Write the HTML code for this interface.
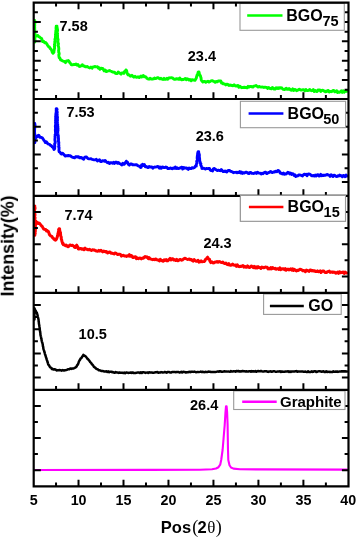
<!DOCTYPE html><html><head><meta charset="utf-8"><style>html,body{margin:0;padding:0;background:#fff;}svg{display:block}text{font-family:"Liberation Sans",sans-serif;font-weight:bold;fill:#000}</style></head><body>
<svg width="357" height="538" viewBox="0 0 357 538">
<rect width="357" height="538" fill="#fff"/>
<polyline points="34.8,20.5 34.7,21.4 34.6,22.4 34.9,23.3 34.5,24.2 34.8,25.2 34.7,26.1 34.5,27.0 34.8,28.0 34.5,28.9 34.8,29.8 34.5,30.8 34.6,31.7 34.8,32.7 35.0,33.6 34.6,34.5 34.6,35.5 34.9,36.4 35.1,37.3 34.8,38.3 34.7,39.2 35.1,40.1 34.5,41.1 34.8,42.0 35.1,41.1 34.8,40.1 34.8,39.2 34.9,38.3 35.1,37.4 35.5,36.4 35.4,35.5 37.0,35.6 37.9,35.4 38.7,36.7 39.6,37.0 40.7,38.0 41.7,38.5 41.9,39.5 42.3,40.5 42.5,41.5 43.5,41.2 44.6,42.7 45.4,42.4 46.3,43.2 47.1,44.4 47.7,45.6 48.2,45.9 48.8,46.9 49.5,47.2 50.2,48.5 50.9,49.0 51.3,49.7 51.7,50.3 52.2,52.1 52.6,52.8 53.0,53.2 54.0,52.0 53.9,51.1 54.2,50.2 54.3,49.3 54.6,48.4 54.6,47.5 54.4,46.6 54.9,45.6 54.4,44.7 54.7,43.8 55.0,42.9 54.7,42.0 55.0,41.1 55.1,40.2 54.9,39.3 55.3,38.3 55.5,37.4 55.4,36.5 55.7,35.5 55.4,34.6 55.7,33.7 55.7,32.7 55.8,31.8 55.8,30.9 56.1,29.9 56.2,29.0 56.0,28.1 56.2,27.1 56.2,26.2 57.0,26.2 56.8,27.1 57.3,28.1 57.3,29.0 57.6,29.9 57.5,30.9 57.3,31.8 57.4,32.7 57.6,33.7 57.3,34.6 57.6,35.5 57.5,36.5 57.6,37.4 57.6,38.3 58.1,39.3 58.0,40.2 57.8,41.1 58.0,42.0 58.1,43.0 58.5,43.9 58.1,44.8 58.3,45.7 58.5,46.6 58.7,47.6 58.8,48.5 58.8,49.4 58.6,50.3 58.7,51.3 58.7,52.2 59.1,53.1 59.2,54.0 58.8,54.9 58.9,55.9 59.0,56.8 59.2,57.7 59.9,58.2 60.6,59.8 61.5,60.2 62.5,60.9 63.4,61.2 64.5,61.4 65.5,62.6 66.4,60.9 67.4,61.0 68.3,60.5 69.0,61.2 69.7,62.5 70.4,63.3 71.3,64.7 72.3,64.6 73.2,64.7 74.1,64.5 75.1,64.5 76.0,64.0 76.9,65.1 77.9,64.5 78.8,66.1 79.7,66.5 80.5,66.0 81.4,65.8 82.3,64.7 83.2,66.0 84.2,65.9 85.1,66.8 86.3,66.8 87.4,66.5 88.6,67.5 89.8,68.0 90.9,67.1 92.1,68.2 93.0,67.0 93.8,66.9 94.7,66.5 95.6,66.8 96.5,66.9 97.5,66.8 98.4,68.2 99.2,67.7 100.0,69.2 101.0,68.2 102.1,68.5 102.8,68.5 103.5,69.8 104.2,70.9 105.2,70.0 106.3,71.6 107.4,71.1 108.4,70.9 109.5,70.5 110.5,71.0 111.5,71.4 112.6,72.0 113.5,72.2 114.5,72.2 115.4,73.4 116.3,73.6 117.3,73.5 118.2,72.0 119.1,72.6 120.1,73.4 121.0,74.1 121.9,73.0 122.9,72.8 123.8,73.4 124.3,72.2 124.8,71.2 125.4,71.4 125.9,69.9 126.3,70.2 126.7,70.9 127.2,73.7 127.6,73.9 128.0,74.8 128.9,74.6 129.9,75.8 130.8,76.2 131.9,75.3 132.9,76.3 133.9,77.2 135.0,76.2 136.1,77.3 137.1,77.3 138.1,76.8 139.2,77.6 140.0,76.9 140.9,76.1 141.7,76.9 142.6,76.0 143.4,75.5 144.3,76.8 145.2,76.6 146.0,77.0 146.9,78.3 147.9,78.9 149.0,79.2 150.0,78.2 150.9,79.0 151.8,78.9 152.7,79.0 153.6,78.9 154.5,78.0 155.5,78.6 156.4,78.4 157.3,77.8 158.2,77.8 159.1,78.4 160.0,78.9 161.0,78.3 162.0,79.1 163.0,79.5 164.0,78.4 165.0,79.3 166.0,79.3 167.0,78.2 167.9,79.2 168.8,78.0 169.8,77.8 170.7,77.9 171.6,77.8 172.5,77.9 173.4,78.8 174.3,79.4 175.2,79.3 176.2,78.7 177.1,79.1 178.0,78.8 178.9,79.4 179.8,78.0 180.7,79.2 181.6,79.8 182.5,79.5 183.5,79.5 184.4,79.0 185.3,78.4 186.2,79.7 187.1,78.8 188.0,79.2 189.0,80.0 190.0,79.5 191.1,80.6 192.1,79.6 193.1,79.8 194.2,80.2 194.9,80.4 195.6,79.2 196.3,78.1 196.6,76.6 196.9,75.6 197.2,74.8 197.5,75.4 197.8,74.4 198.1,72.2 198.4,72.0 199.0,72.0 199.4,73.7 199.8,75.0 200.1,75.3 200.5,76.0 200.7,77.0 201.1,78.0 201.1,78.9 201.3,79.9 201.9,80.9 202.9,82.0 203.9,81.5 204.8,81.4 205.8,82.3 206.8,81.6 207.9,81.3 208.9,82.0 209.9,81.7 211.0,80.9 212.1,80.7 213.1,81.1 214.1,81.5 215.2,82.3 216.2,81.5 217.2,81.9 218.1,81.0 219.1,81.0 220.1,80.9 220.8,80.9 221.5,83.1 222.2,82.7 222.9,83.7 223.9,83.8 224.9,84.1 225.8,84.9 226.8,84.1 227.8,84.4 228.9,85.5 229.9,85.0 230.9,85.3 232.0,85.5 233.1,85.7 234.1,84.8 235.1,85.8 236.2,86.1 237.1,85.7 238.0,85.5 238.9,87.3 239.8,86.2 240.7,87.0 241.6,87.7 242.5,87.5 243.4,87.6 244.3,87.2 245.3,87.5 246.2,87.4 247.1,87.8 248.1,86.4 249.0,87.2 249.9,86.5 250.9,86.4 251.8,86.8 252.9,87.0 253.9,86.2 254.9,85.9 256.0,85.5 257.1,86.3 258.1,87.0 259.1,86.4 260.2,86.8 261.1,87.1 262.1,87.0 263.0,87.1 263.9,87.5 264.9,87.1 265.8,87.4 266.7,87.4 267.7,88.4 268.6,87.6 269.5,88.1 270.5,88.6 271.4,88.8 272.3,87.5 273.3,88.2 274.2,89.1 275.1,89.0 276.1,87.7 277.0,88.5 277.9,87.8 278.9,88.5 279.8,87.7 280.7,88.1 281.7,87.8 282.6,89.0 283.5,89.3 284.5,89.6 285.4,88.8 286.3,88.2 287.2,89.4 288.2,89.4 289.1,88.5 290.0,89.3 290.9,90.1 291.9,90.3 292.8,88.9 293.7,90.4 294.7,89.4 295.6,89.6 296.5,90.7 297.5,90.4 298.4,89.8 299.3,89.2 300.3,89.8 301.2,90.1 302.1,89.8 303.1,89.6 304.0,89.9 304.9,90.8 305.9,89.5 306.8,90.5 307.7,90.6 308.7,90.4 309.6,89.5 310.5,90.2 311.5,90.7 312.4,90.5 313.3,89.6 314.3,91.5 315.2,90.5 316.1,91.1 317.1,91.6 318.0,89.9 318.9,90.3 319.9,89.9 320.8,91.4 321.7,90.4 322.7,90.2 323.6,91.0 324.5,90.9 325.5,91.9 326.4,91.7 327.3,90.7 328.3,90.5 329.2,92.0 330.1,91.4 331.1,91.7 332.0,91.3 332.9,90.5 333.9,90.5 334.8,91.8 335.7,91.4 336.7,90.7 337.6,92.5 338.5,92.0 339.5,92.3 340.4,91.8 341.3,90.9 342.3,92.4 343.2,90.7 344.2,92.2 345.1,91.4 346.1,91.0 347.0,91.3" fill="none" stroke="#00ff00" stroke-width="2.9" stroke-linejoin="round" stroke-linecap="round"/>
<polyline points="34.8,123.4 34.8,124.3 35.1,125.2 34.7,126.2 34.6,127.1 34.8,128.0 34.6,128.9 34.6,129.8 34.6,130.8 34.5,131.7 34.6,132.6 34.7,133.5 34.7,134.4 35.0,135.3 34.7,136.3 34.8,137.2 34.6,138.1 34.7,139.0 34.5,139.9 34.7,140.9 34.5,141.8 34.8,142.7 35.0,141.8 35.0,140.9 34.9,140.0 35.2,139.1 35.6,138.2 35.4,137.3 36.2,136.0 37.0,136.9 37.9,135.6 38.7,135.2 39.3,135.9 39.8,137.3 40.4,137.3 41.5,137.5 42.5,138.1 43.2,139.1 43.9,140.4 44.6,141.0 45.4,142.5 46.3,141.8 47.1,142.7 47.9,143.9 48.8,144.2 49.6,144.4 50.2,145.3 50.9,145.5 51.6,146.0 52.2,146.9 52.8,146.9 53.4,147.9 54.0,149.5 54.7,148.6 54.5,147.7 54.9,146.7 54.7,145.8 54.7,144.9 54.6,143.9 55.1,143.0 55.2,142.1 55.1,141.1 54.9,140.2 54.9,139.3 55.0,138.3 55.1,137.4 55.0,136.5 55.2,135.5 55.1,134.6 55.6,133.7 55.6,132.7 55.4,131.8 55.5,130.9 55.3,129.9 55.8,129.0 55.4,128.1 55.5,127.2 55.3,126.2 55.6,125.3 55.6,124.4 55.7,123.4 55.5,122.5 55.8,121.6 55.5,120.7 55.7,119.7 55.6,118.8 55.8,117.9 55.6,117.0 55.7,116.0 55.9,115.1 55.8,114.2 56.1,113.2 56.1,112.3 56.3,111.4 56.2,110.5 56.3,109.5 56.2,108.6 56.8,108.6 57.1,109.5 56.8,110.4 56.8,111.3 57.3,112.2 56.8,113.2 57.2,114.1 57.2,115.0 56.9,115.9 57.4,116.8 57.5,117.7 57.3,118.6 57.4,119.5 57.5,120.4 57.2,121.3 57.4,122.3 57.5,123.2 57.7,124.1 57.7,125.0 57.6,125.9 57.9,126.8 57.8,127.7 58.0,128.6 57.9,129.5 58.0,130.4 57.8,131.3 57.7,132.3 57.8,133.2 58.0,134.1 57.9,135.0 58.4,135.9 58.3,136.8 58.4,137.7 58.5,138.6 58.5,139.5 58.5,140.4 58.3,141.3 58.8,142.2 58.8,143.2 58.7,144.1 58.8,145.0 58.9,145.9 58.6,146.8 59.1,147.7 59.0,148.6 59.0,149.7 58.9,150.8 59.3,151.9 60.0,152.1 60.6,153.3 61.5,154.0 62.5,153.2 63.4,154.0 64.3,155.0 65.3,156.1 66.2,155.7 67.2,155.7 68.3,155.5 69.4,155.7 70.4,155.7 71.2,156.5 72.1,157.1 72.9,157.3 73.8,157.7 74.6,157.9 75.5,156.8 76.5,156.7 77.4,157.1 78.6,156.7 79.7,157.9 80.9,157.5 81.8,157.7 82.8,158.8 83.7,159.3 84.4,157.6 85.1,157.0 85.8,157.1 86.6,157.0 87.5,158.2 88.3,158.6 89.2,158.9 90.0,158.9 91.0,158.7 92.1,159.4 93.2,159.6 94.2,159.9 95.2,159.9 96.3,159.3 97.4,161.0 98.4,160.3 99.5,159.8 100.5,161.5 101.5,161.5 102.6,160.7 104.2,161.2 105.2,160.5 106.3,161.7 107.4,162.7 108.4,162.3 109.5,163.5 110.5,162.7 111.5,162.6 112.6,163.3 113.5,162.4 114.5,163.5 115.4,162.3 116.5,162.1 117.5,163.2 118.5,162.6 119.6,163.7 120.6,163.9 121.7,164.9 122.8,163.4 123.8,164.3 124.4,164.2 125.0,162.8 125.7,162.7 126.3,161.2 126.9,162.4 127.5,162.2 128.2,164.3 128.8,164.3 129.4,165.1 130.4,164.0 131.5,163.9 132.6,164.8 133.6,164.7 134.7,164.9 135.7,164.8 136.8,164.7 137.8,165.7 138.7,166.0 139.7,166.5 140.6,167.5 141.1,167.4 141.6,164.9 142.2,165.6 142.7,164.3 143.6,165.5 144.4,164.6 145.3,166.8 146.2,166.5 147.1,167.1 148.1,167.6 149.1,166.5 150.0,167.1 150.9,166.9 151.9,166.9 152.8,168.2 153.8,167.4 154.7,167.0 155.6,167.1 156.6,166.9 157.5,166.4 158.4,166.6 159.4,168.1 160.3,167.0 161.2,168.3 162.2,167.0 163.1,167.1 164.1,167.6 165.0,167.6 165.9,167.0 166.9,167.4 167.8,168.6 168.8,168.5 169.7,168.3 170.6,168.0 171.6,168.6 172.5,168.7 173.4,167.9 174.4,168.3 175.3,167.0 176.2,168.4 177.2,167.8 178.1,168.5 179.1,168.3 180.0,168.0 180.9,167.6 181.8,167.2 182.7,169.0 183.6,167.4 184.5,168.2 185.5,168.0 186.4,167.9 187.3,168.8 188.2,169.4 189.1,168.0 190.0,168.5 191.1,168.6 192.1,167.7 193.1,168.0 194.2,167.7 194.9,166.9 195.6,165.9 196.3,166.0 196.2,165.1 196.4,164.1 196.9,163.2 196.8,162.2 196.7,161.3 197.3,160.3 197.4,159.4 197.2,158.4 197.2,157.5 197.3,156.5 197.4,155.6 197.6,154.6 197.6,153.7 197.8,152.7 198.1,151.8 198.7,151.8 198.7,152.7 199.0,153.6 199.3,154.5 199.4,155.4 199.3,156.3 199.4,157.3 199.6,158.2 199.6,159.1 199.7,160.0 199.7,160.9 200.1,161.8 200.2,162.8 200.9,163.7 200.6,164.7 201.1,165.6 201.5,166.6 201.9,167.5 201.9,168.5 203.1,168.1 204.2,168.4 205.4,169.1 206.4,168.4 207.5,168.6 208.6,168.5 209.6,168.5 210.3,170.1 211.0,170.5 211.7,170.5 212.6,170.9 213.4,168.8 214.3,168.5 215.2,169.1 216.2,169.9 217.3,170.6 218.3,170.1 219.4,170.5 220.3,170.7 221.3,169.6 222.2,170.5 223.1,171.6 224.1,171.5 225.0,170.9 225.9,171.7 226.9,172.0 227.8,170.6 228.7,170.4 229.7,170.5 230.6,171.3 231.5,171.5 232.5,172.0 233.4,172.7 234.3,172.4 235.3,172.4 236.2,172.3 237.1,172.9 238.0,172.3 238.9,172.5 239.8,171.5 240.7,173.1 241.6,172.0 242.5,173.4 243.4,172.6 244.3,173.0 245.3,172.4 246.2,172.1 247.1,172.5 248.1,173.3 249.0,173.5 249.9,172.4 250.9,172.5 251.8,173.4 252.7,173.4 253.7,173.5 254.6,173.1 255.5,172.7 256.5,173.4 257.4,172.2 258.3,172.8 259.3,173.1 260.2,173.1 261.1,174.0 262.1,173.3 263.0,173.7 263.9,172.8 264.9,172.3 265.8,172.3 266.7,173.6 267.7,173.1 268.6,172.6 269.6,172.1 270.6,171.5 271.6,172.3 272.5,172.6 273.5,172.0 274.5,172.1 275.4,171.2 276.2,171.6 277.0,171.7 277.9,170.4 278.5,170.6 279.1,171.0 279.8,172.3 280.4,173.4 281.4,173.3 282.4,173.9 283.4,173.0 284.4,174.3 285.4,173.8 286.2,174.0 287.1,173.2 287.9,172.3 288.8,172.6 289.7,173.9 290.6,173.0 291.4,174.4 292.3,173.6 293.2,173.9 294.1,175.4 294.9,174.8 295.8,176.5 296.7,176.0 297.7,175.8 298.6,175.0 299.6,174.9 300.5,175.1 301.5,175.5 302.4,175.9 303.4,174.8 304.3,174.1 305.2,174.6 306.1,174.3 307.0,175.8 307.9,174.2 308.8,174.0 309.8,174.1 310.7,174.8 311.6,175.8 312.5,175.8 313.4,175.5 314.3,176.1 315.2,175.1 316.1,176.0 317.1,174.8 318.0,174.6 318.9,176.1 319.9,175.8 320.8,174.4 321.7,175.7 322.7,175.2 323.6,175.5 324.5,175.2 325.5,175.2 326.4,174.8 327.3,174.5 328.3,175.1 329.2,175.2 330.1,176.4 331.1,174.7 332.0,175.5 333.0,176.5 333.9,175.1 334.9,175.4 335.8,176.4 336.8,176.5 337.7,175.8 338.7,176.0 339.6,175.1 340.5,175.9 341.5,175.7 342.4,176.8 343.3,175.4 344.2,175.7 345.2,176.8 346.1,175.1 347.0,176.0" fill="none" stroke="#0000ff" stroke-width="2.9" stroke-linejoin="round" stroke-linecap="round"/>
<polyline points="34.8,205.9 34.7,206.8 35.0,207.7 35.0,208.7 34.5,209.6 34.5,210.5 34.5,211.4 35.1,212.3 34.7,213.2 34.9,214.2 35.0,215.1 34.7,216.0 34.7,216.9 35.1,217.8 34.9,218.8 34.7,219.7 34.9,220.6 34.7,221.5 34.7,222.4 34.5,223.4 35.0,224.3 35.0,225.2 34.9,226.1 35.1,227.0 34.5,228.0 34.6,228.9 34.8,229.8 35.1,230.7 35.1,231.6 34.7,232.5 34.7,233.5 34.8,234.4 34.8,235.3 34.9,234.4 35.2,233.4 34.8,232.5 35.3,231.5 35.3,230.6 35.4,229.6 35.5,228.7 35.5,227.7 35.4,226.8 35.4,225.8 35.5,224.9 35.8,223.9 35.5,223.0 35.6,222.0 35.9,221.1 36.6,222.4 37.2,222.2 37.9,223.5 38.9,223.1 39.8,223.6 40.8,225.0 41.5,225.9 42.1,226.3 42.8,227.5 43.8,229.1 44.7,229.5 45.7,229.4 46.4,231.0 47.0,230.3 47.7,231.4 48.2,231.3 48.7,232.2 49.1,233.7 49.6,234.9 50.1,235.3 50.9,236.0 51.8,236.4 52.6,237.7 53.3,238.2 54.0,239.2 54.8,239.9 55.5,240.2 56.0,239.7 56.5,238.9 57.0,237.6 57.5,236.3 57.5,235.4 58.1,234.4 57.9,233.5 58.3,232.6 58.4,231.6 58.8,230.7 58.6,229.7 59.0,228.8 59.6,228.8 59.6,229.7 59.8,230.6 59.9,231.6 60.5,232.5 60.5,233.4 60.6,234.3 60.6,235.3 60.8,236.3 61.3,237.2 61.2,238.2 61.3,239.2 61.6,239.6 62.0,241.7 62.3,242.3 62.7,243.9 63.0,243.1 63.4,244.8 64.3,244.8 65.3,245.6 66.2,245.1 67.1,246.1 68.1,246.7 69.0,246.2 69.9,245.0 70.9,245.3 71.8,245.5 72.7,245.3 73.7,246.1 74.6,247.3 75.3,247.5 76.0,246.0 76.7,245.1 77.2,246.9 77.8,246.8 78.3,248.8 78.8,249.0 79.8,248.8 80.9,248.4 82.0,249.3 83.0,248.7 84.0,249.7 85.1,248.2 86.2,249.3 87.2,249.3 88.2,249.8 89.3,249.3 90.4,249.9 91.4,250.4 92.5,249.8 93.5,250.0 94.5,250.1 95.6,250.7 96.6,251.0 97.7,251.2 98.8,250.4 99.8,251.1 100.8,250.3 101.7,251.0 102.7,251.9 103.7,251.0 104.6,251.4 105.6,251.9 106.5,251.5 107.5,253.0 108.4,252.7 109.3,252.0 110.3,252.3 111.2,253.3 112.1,253.2 113.1,253.6 114.0,253.9 114.9,252.9 115.9,253.2 116.8,254.0 117.7,254.6 118.7,254.3 119.6,254.3 120.5,254.5 121.5,256.1 122.4,255.4 123.5,255.3 124.5,256.1 125.5,255.9 126.6,256.5 127.5,255.7 128.5,256.0 129.4,254.7 130.2,256.3 131.1,255.5 131.9,255.8 132.8,257.4 133.6,257.5 134.5,257.0 135.5,256.7 136.4,258.7 137.3,257.8 138.3,258.7 139.2,258.2 140.2,258.0 141.3,259.0 142.3,258.1 143.4,258.2 144.3,257.2 145.2,256.5 146.0,257.3 146.9,256.8 147.7,257.6 148.4,258.7 149.2,257.6 150.0,258.9 151.7,259.3 152.7,259.7 153.6,259.3 154.6,259.7 155.5,259.0 156.5,259.4 157.4,260.0 158.4,260.1 159.4,261.0 160.3,259.4 161.3,260.3 162.3,260.9 163.3,261.3 164.2,259.8 165.2,260.5 166.2,259.5 167.1,260.9 168.1,260.7 169.0,259.5 170.0,258.4 170.9,259.9 171.9,258.8 172.9,258.8 173.8,260.1 174.8,259.8 175.7,260.4 176.7,259.3 177.6,260.8 178.6,260.5 179.6,259.6 180.6,259.6 181.7,260.2 182.7,259.8 183.7,258.8 184.7,258.3 185.6,258.5 186.6,259.0 187.5,259.4 188.5,259.3 189.4,258.9 190.4,259.8 191.4,259.5 192.3,260.6 193.3,261.1 194.2,259.6 195.2,260.8 196.1,261.3 197.1,261.0 198.1,260.3 199.0,262.2 200.0,261.8 201.1,260.9 202.1,261.8 203.1,261.6 204.2,261.4 204.8,261.0 205.3,259.6 205.9,259.1 206.5,258.8 207.0,257.8 207.6,257.2 208.1,258.3 208.5,258.6 209.0,259.4 209.5,259.3 210.0,261.3 210.4,261.8 210.9,262.6 211.9,261.9 213.0,262.9 214.1,262.8 215.1,262.1 216.1,262.1 217.0,261.6 218.0,262.3 218.9,261.6 219.9,261.7 220.8,262.4 221.8,262.6 222.8,262.1 223.8,263.2 224.9,263.6 225.9,263.0 226.9,264.3 227.9,264.7 228.8,263.7 229.8,265.1 230.7,265.3 231.7,264.9 232.6,264.1 233.6,265.1 234.5,265.2 235.5,265.1 236.4,266.3 237.3,264.8 238.3,266.3 239.2,266.7 240.1,266.3 241.1,266.5 242.0,266.0 242.9,265.5 243.9,267.1 244.8,266.3 245.7,267.3 246.7,267.3 247.6,265.9 248.5,267.2 249.5,267.6 250.4,266.8 251.4,266.0 252.3,266.7 253.3,267.6 254.2,266.4 255.2,268.0 256.2,266.8 257.1,268.0 258.1,266.7 259.0,267.5 260.0,267.6 260.9,268.5 261.8,267.1 262.7,267.3 263.6,267.8 264.5,267.5 265.4,267.0 266.3,267.3 267.2,267.3 268.1,268.9 269.0,268.5 269.9,268.9 270.8,267.5 271.7,268.8 272.6,267.5 273.5,268.4 274.4,268.7 275.3,268.2 276.2,269.2 277.1,268.7 278.0,268.8 278.9,269.4 279.8,267.9 280.7,269.7 281.6,268.8 282.5,269.1 283.4,268.7 284.4,269.6 285.3,268.6 286.2,270.2 287.1,269.4 288.0,269.1 288.9,269.9 289.9,269.4 290.8,268.9 291.7,270.1 292.6,268.8 293.5,270.4 294.4,269.4 295.4,270.2 296.3,271.0 297.2,270.3 298.1,270.5 299.0,269.9 299.9,269.3 300.9,269.5 301.8,269.8 302.7,270.8 303.6,270.5 304.5,270.7 305.4,271.6 306.4,270.1 307.3,270.4 308.2,271.0 309.1,271.4 310.0,270.1 311.0,270.1 311.9,270.9 312.8,270.4 313.7,271.0 314.6,270.8 315.5,271.5 316.5,271.6 317.4,270.9 318.3,271.7 319.2,271.5 320.1,270.9 321.0,272.5 322.0,271.2 322.9,271.0 323.8,271.0 324.7,272.1 325.6,272.6 326.5,272.5 327.5,271.7 328.4,271.5 329.3,271.1 330.2,272.4 331.1,272.2 332.0,271.9 333.0,272.5 333.9,272.1 334.8,272.3 335.7,273.2 336.7,272.9 337.6,272.0 338.6,273.4 339.5,271.7 340.4,272.7 341.4,272.5 342.3,272.3 343.2,272.0 344.2,273.5 345.1,272.0 346.1,273.1 347.0,273.1" fill="none" stroke="#ff0000" stroke-width="3.0" stroke-linejoin="round" stroke-linecap="round"/>
<polyline points="34.4,319.5 34.5,318.6 34.3,317.6 34.3,316.7 34.4,315.8 34.4,314.8 34.4,313.9 34.5,313.0 34.3,312.0 34.3,311.1 34.3,310.2 34.3,309.2 34.4,308.3 35.0,309.8 35.6,310.5 36.0,311.6 36.4,312.4 36.8,312.7 37.2,314.0 37.5,315.0 37.7,316.0 37.9,317.0 38.2,318.0 38.4,319.0 38.6,320.0 38.6,320.9 38.7,321.8 38.9,322.7 38.9,323.6 39.1,324.6 39.3,325.5 39.4,326.4 39.6,327.3 39.6,328.2 39.8,329.1 39.8,330.0 40.0,330.9 40.1,331.8 40.3,332.7 40.4,333.6 40.4,334.5 40.6,335.4 40.8,336.3 41.1,337.2 41.1,338.1 41.5,338.9 41.5,339.8 41.7,340.7 41.9,341.6 42.2,342.5 42.5,343.4 42.7,344.3 42.8,345.2 42.9,346.1 43.2,347.0 43.3,347.9 43.4,348.8 43.7,349.7 44.1,350.7 44.3,351.7 44.7,352.8 44.9,353.8 45.2,354.8 45.6,355.8 45.8,356.8 46.3,357.9 46.5,358.9 46.8,359.9 47.2,360.8 47.4,361.7 47.8,362.7 48.0,363.6 48.3,364.5 48.8,365.1 49.3,365.8 49.9,366.9 50.4,367.6 51.1,367.7 51.9,369.0 52.6,368.8 53.4,369.6 54.4,369.3 55.5,369.5 56.5,370.4 57.5,370.2 58.5,370.2 59.5,370.1 60.6,370.2 61.6,370.7 62.7,370.1 63.9,370.5 65.0,370.2 66.1,370.0 67.2,369.7 68.3,369.2 69.3,369.3 70.3,368.5 71.4,368.9 72.4,368.5 73.4,368.5 74.2,368.2 75.1,367.7 75.9,367.2 76.7,366.3 77.1,365.1 77.5,365.0 78.0,364.2 78.4,363.3 78.8,361.8 79.2,361.0 79.7,360.1 80.1,359.6 80.6,358.4 81.2,358.3 81.8,357.5 82.3,356.5 82.9,355.9 83.4,354.8 84.1,355.5 84.8,355.8 85.4,356.3 86.1,356.9 86.8,357.9 87.4,358.8 87.9,359.0 88.5,359.8 89.1,360.6 89.6,361.0 90.2,362.1 90.8,362.6 91.4,363.3 92.0,364.4 92.6,364.8 93.2,365.5 93.8,366.8 94.4,367.1 95.2,367.7 96.1,368.7 96.9,369.1 97.8,369.2 98.6,370.2 99.6,370.3 100.6,370.6 101.6,371.1 102.6,370.9 103.6,371.3 104.5,371.6 105.5,371.5 106.4,371.3 107.3,372.0 108.3,371.4 109.2,372.2 110.1,371.7 111.1,371.7 112.0,372.2 112.9,372.0 113.9,372.6 114.8,372.8 115.7,372.0 116.7,372.5 117.6,372.6 118.5,372.9 119.5,372.4 120.4,372.8 121.4,372.8 122.3,372.7 123.3,373.1 124.2,372.6 125.2,373.2 126.2,372.6 127.1,372.5 128.1,373.0 129.0,372.8 130.0,372.8 130.9,372.4 131.8,372.9 132.7,372.4 133.6,373.0 134.5,372.9 135.5,373.0 136.4,372.8 137.3,372.6 138.2,372.6 139.1,372.6 140.0,373.0 140.9,372.3 141.8,373.0 142.7,372.2 143.6,372.3 144.5,372.4 145.5,372.9 146.4,372.6 147.3,372.4 148.2,372.9 149.1,372.3 150.0,372.5 150.9,372.5 151.8,372.5 152.8,372.7 153.7,372.7 154.6,372.6 155.5,372.3 156.4,372.3 157.4,372.1 158.3,372.7 159.2,372.5 160.1,372.6 161.1,372.1 162.0,372.3 162.9,372.6 163.8,372.4 164.7,372.0 165.7,372.3 166.6,372.7 167.5,372.1 168.4,372.0 169.3,372.1 170.3,372.5 171.2,372.6 172.1,371.9 173.0,371.9 173.9,372.0 174.9,372.1 175.8,372.2 176.7,371.9 177.6,372.0 178.6,371.9 179.5,372.6 180.4,372.4 181.3,371.8 182.2,372.5 183.2,371.8 184.1,372.0 185.0,372.1 185.9,372.5 186.9,372.3 187.8,372.3 188.7,372.0 189.6,371.8 190.6,372.2 191.5,371.7 192.4,371.7 193.3,371.9 194.3,371.6 195.2,371.9 196.1,372.2 197.0,372.1 198.0,371.9 198.9,372.1 199.8,371.9 200.7,371.6 201.7,372.0 202.6,371.8 203.5,372.1 204.4,372.2 205.4,371.8 206.3,371.9 207.2,372.1 208.1,371.8 209.1,371.6 210.0,371.8 210.9,372.0 211.8,372.1 212.7,372.0 213.6,371.9 214.5,372.0 215.5,371.9 216.4,371.8 217.3,371.6 218.2,371.5 219.1,371.7 220.0,371.2 220.9,371.5 221.8,371.8 222.7,371.7 223.6,371.6 224.5,371.3 225.5,371.4 226.4,371.4 227.3,371.6 228.2,371.4 229.1,371.6 230.0,371.8 230.9,371.1 231.8,371.5 232.7,371.6 233.6,371.2 234.5,371.3 235.5,371.7 236.4,370.9 237.3,371.3 238.2,370.9 239.1,371.5 240.0,371.2 240.9,371.6 241.8,371.2 242.7,370.9 243.6,371.3 244.5,371.3 245.5,371.5 246.4,371.3 247.3,371.4 248.2,371.6 249.1,371.3 250.0,371.2 250.9,371.7 251.8,371.1 252.7,371.5 253.6,371.2 254.5,371.6 255.5,371.0 256.4,371.8 257.3,371.2 258.2,371.0 259.1,371.2 260.0,371.3 260.9,371.0 261.8,371.3 262.7,371.4 263.6,371.6 264.5,371.3 265.5,371.2 266.4,371.2 267.3,371.7 268.2,371.9 269.1,371.5 270.0,371.5 270.9,371.3 271.8,371.8 272.7,371.4 273.6,371.3 274.5,371.2 275.5,371.8 276.4,371.8 277.3,371.6 278.2,371.5 279.1,371.6 280.0,371.3 280.9,372.0 281.8,371.4 282.7,371.7 283.6,371.8 284.5,371.8 285.5,371.5 286.4,371.4 287.3,371.6 288.2,371.2 289.1,371.9 290.0,371.4 290.9,371.9 291.8,371.4 292.7,371.5 293.6,371.4 294.5,371.5 295.5,371.3 296.4,371.1 297.3,371.8 298.2,371.4 299.1,371.4 300.0,371.6 300.9,371.4 301.8,371.6 302.7,371.5 303.6,371.7 304.5,371.7 305.4,371.5 306.3,372.0 307.2,371.9 308.1,371.2 309.0,371.9 309.9,372.0 310.8,371.9 311.8,371.3 312.7,371.9 313.6,371.7 314.5,371.2 315.4,371.2 316.3,372.0 317.2,371.7 318.1,371.4 319.0,371.2 319.9,371.3 320.8,371.4 321.7,371.8 322.6,371.5 323.5,371.3 324.4,372.0 325.3,371.9 326.2,371.3 327.1,372.0 328.0,371.7 328.9,371.9 329.8,371.8 330.7,372.0 331.6,371.9 332.5,371.9 333.4,371.3 334.3,371.8 335.2,371.6 336.2,371.8 337.1,371.5 338.0,371.9 338.9,371.6 339.8,371.4 340.7,371.4 341.6,371.3 342.5,371.6 343.4,371.2 344.3,371.6 345.2,371.3 346.1,371.6 347.0,371.6" fill="none" stroke="#000000" stroke-width="2.5" stroke-linejoin="round" stroke-linecap="round"/>
<polyline points="34.8,470.0 150.0,469.9 200.0,469.7 212.0,469.2 216.0,468.5 218.5,467.2 220.2,464.7 221.2,460.0 222.6,450.0 223.6,438.0 224.7,425.0 225.5,412.0 226.0,406.4 226.6,406.4 227.1,412.0 227.6,425.0 227.8,438.0 228.0,450.0 228.3,460.0 229.5,465.2 231.0,467.5 233.5,468.6 240.0,469.3 347.0,469.6" fill="none" stroke="#ff00ff" stroke-width="2.1" stroke-linejoin="round" stroke-linecap="round"/>
<path d="M56.04,99.00v-4.0 M78.52,99.00v-6.7 M101.01,99.00v-4.0 M123.50,99.00v-6.7 M145.99,99.00v-4.0 M168.47,99.00v-6.7 M190.96,99.00v-4.0 M213.45,99.00v-6.7 M235.94,99.00v-4.0 M258.42,99.00v-6.7 M280.91,99.00v-4.0 M303.40,99.00v-6.7 M325.89,99.00v-4.0 M56.04,195.90v-4.0 M78.52,195.90v-6.7 M101.01,195.90v-4.0 M123.50,195.90v-6.7 M145.99,195.90v-4.0 M168.47,195.90v-6.7 M190.96,195.90v-4.0 M213.45,195.90v-6.7 M235.94,195.90v-4.0 M258.42,195.90v-6.7 M280.91,195.90v-4.0 M303.40,195.90v-6.7 M325.89,195.90v-4.0 M56.04,292.90v-4.0 M78.52,292.90v-6.7 M101.01,292.90v-4.0 M123.50,292.90v-6.7 M145.99,292.90v-4.0 M168.47,292.90v-6.7 M190.96,292.90v-4.0 M213.45,292.90v-6.7 M235.94,292.90v-4.0 M258.42,292.90v-6.7 M280.91,292.90v-4.0 M303.40,292.90v-6.7 M325.89,292.90v-4.0 M56.04,389.90v-4.0 M78.52,389.90v-6.7 M101.01,389.90v-4.0 M123.50,389.90v-6.7 M145.99,389.90v-4.0 M168.47,389.90v-6.7 M190.96,389.90v-4.0 M213.45,389.90v-6.7 M235.94,389.90v-4.0 M258.42,389.90v-6.7 M280.91,389.90v-4.0 M303.40,389.90v-6.7 M325.89,389.90v-4.0 M56.04,486.40v-4.0 M78.52,486.40v-6.7 M101.01,486.40v-4.0 M123.50,486.40v-6.7 M145.99,486.40v-4.0 M168.47,486.40v-6.7 M190.96,486.40v-4.0 M213.45,486.40v-6.7 M235.94,486.40v-4.0 M258.42,486.40v-6.7 M280.91,486.40v-4.0 M303.40,486.40v-6.7 M325.89,486.40v-4.0 M56.04,2.60v3.9 M78.52,2.60v6.6 M101.01,2.60v3.9 M123.50,2.60v6.6 M145.99,2.60v3.9 M168.47,2.60v6.6 M190.96,2.60v3.9 M213.45,2.60v6.6 M235.94,2.60v3.9 M258.42,2.60v6.6 M280.91,2.60v3.9 M303.40,2.60v6.6 M325.89,2.60v3.9 M33.70,12.28h4.2 M348.50,12.28h-3.9 M33.70,21.96h7.1 M348.50,21.96h-6.6 M33.70,31.64h4.2 M348.50,31.64h-3.9 M33.70,41.32h7.1 M348.50,41.32h-6.6 M33.70,51.00h4.2 M348.50,51.00h-3.9 M33.70,60.68h7.1 M348.50,60.68h-6.6 M33.70,70.36h4.2 M348.50,70.36h-3.9 M33.70,80.04h7.1 M348.50,80.04h-6.6 M33.70,89.72h4.2 M348.50,89.72h-3.9 M33.70,112.85h4.2 M348.50,112.85h-3.9 M33.70,126.70h7.1 M348.50,126.70h-6.6 M33.70,140.55h4.2 M348.50,140.55h-3.9 M33.70,154.40h7.1 M348.50,154.40h-6.6 M33.70,168.25h4.2 M348.50,168.25h-3.9 M33.70,182.10h7.1 M348.50,182.10h-6.6 M33.70,212.00h7.1 M348.50,212.00h-6.6 M33.70,228.10h4.2 M348.50,228.10h-3.9 M33.70,244.20h7.1 M348.50,244.20h-6.6 M33.70,260.30h4.2 M348.50,260.30h-3.9 M33.70,276.40h7.1 M348.50,276.40h-6.6 M33.70,305.00h7.1 M348.50,305.00h-6.6 M33.70,317.10h4.2 M348.50,317.10h-3.9 M33.70,329.20h7.1 M348.50,329.20h-6.6 M33.70,341.30h4.2 M348.50,341.30h-3.9 M33.70,353.40h7.1 M348.50,353.40h-6.6 M33.70,365.50h4.2 M348.50,365.50h-3.9 M33.70,377.60h7.1 M348.50,377.60h-6.6 M33.70,405.95h7.1 M348.50,405.95h-6.6 M33.70,422.00h4.2 M348.50,422.00h-3.9 M33.70,438.05h7.1 M348.50,438.05h-6.6 M33.70,454.10h4.2 M348.50,454.10h-3.9 M33.70,470.15h7.1 M348.50,470.15h-6.6" stroke="#000" stroke-width="2" fill="none"/>
<rect x="240.0" y="3.5" width="104.3" height="26.8" fill="#fff" stroke="#999" stroke-width="1.1"/>
<rect x="240.4" y="101.3" width="105.2" height="26.4" fill="#fff" stroke="#999" stroke-width="1.1"/>
<rect x="240.4" y="195.4" width="105.1" height="25.9" fill="#fff" stroke="#999" stroke-width="1.1"/>
<rect x="263.6" y="294.0" width="77.6" height="20.4" fill="#fff" stroke="#999" stroke-width="1.1"/>
<rect x="233.7" y="390.9" width="111.3" height="18.6" fill="#fff" stroke="#999" stroke-width="1.1"/>
<path d="M33.7,1.5V487.5 M348.5,1.5V487.5 M32.6,2.6H349.6 M32.6,99.0H349.6 M32.6,195.9H349.6 M32.6,292.9H349.6 M32.6,389.9H349.6 M32.6,486.4H349.6" stroke="#000" stroke-width="2.2" fill="none"/>
<rect x="240.4" y="195.4" width="105.1" height="25.9" fill="#fff" stroke="#999" stroke-width="1.1"/>
<path d="M247.2,15.6H282.5" stroke="#00ff00" stroke-width="2.5" stroke-linecap="butt"/>
<path d="M248.6,113.5H283.4" stroke="#0000ff" stroke-width="2.5" stroke-linecap="butt"/>
<path d="M248.9,207.0H283.4" stroke="#ff0000" stroke-width="2.5" stroke-linecap="butt"/>
<path d="M269.9,306.0H303.8" stroke="#000" stroke-width="2.5" stroke-linecap="butt"/>
<path d="M242.2,401.8H276.7" stroke="#ff00ff" stroke-width="2.5" stroke-linecap="butt"/>
<g style="filter:grayscale(1)"><g style="font-size:14.5px">
<text x="59.5" y="30.9">7.58</text>
<text x="187.8" y="61.1">23.4</text>
<text x="66.4" y="117.2">7.53</text>
<text x="195.7" y="140.9">23.6</text>
<text x="64.4" y="220.2">7.74</text>
<text x="203.4" y="247.7">24.3</text>
<text x="78.6" y="338.5">10.5</text>
<text x="190" y="409.7">26.4</text>
</g>
<g style="font-size:16px">
<text x="286.3" y="20.6">BGO</text>
<text x="287.6" y="118.6">BGO</text>
<text x="287.6" y="211.8">BGO</text>
</g>
<g style="font-size:14.5px">
<text x="322.5" y="25.5">75</text>
<text x="323.3" y="123.9">50</text>
<text x="323.6" y="217.2">15</text>
</g>
<text x="308.2" y="311.2" style="font-size:16px">GO</text>
<text x="280" y="406.6" style="font-size:15px">Graphite</text>
<g style="font-size:14.3px" text-anchor="middle">
<text x="33.7" y="504.6">5</text>
<text x="78.6" y="504.6">10</text>
<text x="123.5" y="504.6">15</text>
<text x="168.5" y="504.6">20</text>
<text x="213.4" y="504.6">25</text>
<text x="258.4" y="504.6">30</text>
<text x="303.4" y="504.6">35</text>
<text x="348.3" y="504.6">40</text>
</g>
<text x="160.8" y="533" style="font-size:16.5px">Pos</text>
<g style="font-family:'Liberation Serif';font-weight:normal"><text x="192.3" y="533" style="font-family:'Liberation Serif';font-weight:normal;font-size:18px">(</text><text x="207.2" y="533" style="font-family:'Liberation Serif';font-weight:normal;font-size:17px">θ</text><text x="215.8" y="533" style="font-family:'Liberation Serif';font-weight:normal;font-size:18px">)</text></g>
<text x="197.6" y="533" style="font-size:16.5px">2</text>
<text transform="translate(13.7,245.9) rotate(-90)" text-anchor="middle" style="font-size:17.8px">Intensity(%)</text>
</g>
</svg></body></html>
